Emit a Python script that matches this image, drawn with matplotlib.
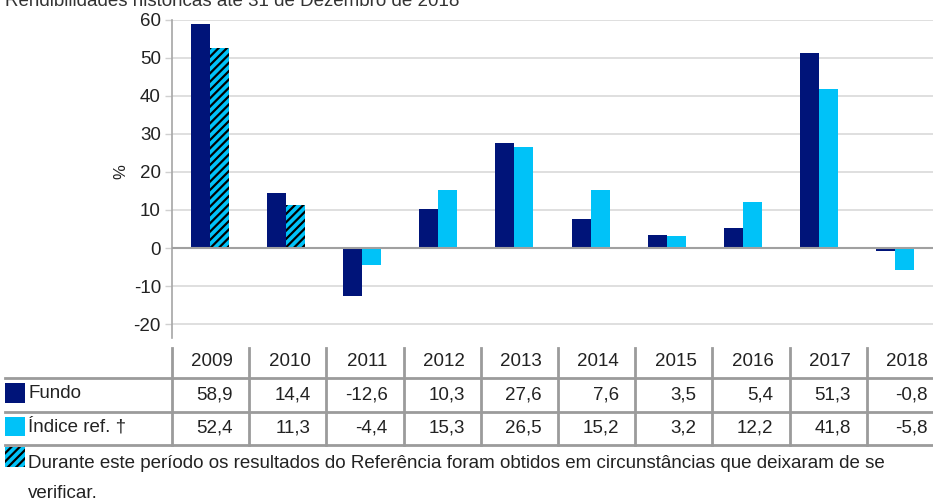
import numpy as np
import matplotlib
matplotlib.use("Agg")
import matplotlib.pyplot as plt
from matplotlib.patches import Rectangle

# Rendibilidades anuais (%)
anos = ["2009", "2010", "2011", "2012", "2013", "2014", "2015", "2016", "2017", "2018"]
fundo = [58.9, 14.4, -12.6, 10.3, 27.6, 7.6, 3.5, 5.4, 51.3, -0.8]
indice = [52.4, 11.3, -4.4, 15.3, 26.5, 15.2, 3.2, 12.2, 41.8, -5.8]
# anos em que o índice foi obtido noutras circunstâncias (barras tracejadas)
anos_tracejados = ["2009", "2010"]

titulo = "Rendibilidades históricas até 31 de Dezembro de 2018"
serie_nomes = ["Fundo", "Índice ref. †"]
nota = ["Durante este período os resultados do Referência foram obtidos em "
        "circunstâncias que deixaram de se", "verificar."]

AZUL = "#001479"
CIANO = "#00C2F8"
CINZA = "#9b9b9b"
TXT = "#222222"
FS = 13.5

plt.rcParams["font.family"] = ["Liberation Sans", "DejaVu Sans"]
plt.rcParams["hatch.linewidth"] = 1.6
plt.rcParams["axes.unicode_minus"] = False

W, H = 933, 503
fig = plt.figure(figsize=(W / 100, H / 100), dpi=100)


def fy(py):
    # pixel contado a partir do topo -> fração da figura
    return 1 - py / H


def fx(px):
    return px / W


ax = fig.add_axes([fx(172), fy(338), 1 - fx(172), fy(19.5) - fy(338)])
x = np.arange(len(anos))
larg = 0.25
ax.bar(x - larg / 2, fundo, larg, color=AZUL, zorder=3)
for i, a in enumerate(anos):
    tracejado = a in anos_tracejados
    ax.bar(x[i] + larg / 2, indice[i], larg, color=CIANO, zorder=3,
           hatch="////" if tracejado else None,
           edgecolor="black" if tracejado else CIANO, linewidth=0)

ax.set_xlim(-0.5, len(anos) - 0.5)
ax.set_ylim(-23.6, 60)
ax.set_yticks(range(-20, 61, 10))
ax.yaxis.grid(True, color="#d9d9d9", linewidth=1.2, zorder=0)
ax.axhline(0, color="#a0a0a0", linewidth=1.5, zorder=4)
ax.set_xticks([])
for s in ["top", "right", "bottom"]:
    ax.spines[s].set_visible(False)
ax.spines["left"].set_color("#a6a6a6")
ax.spines["left"].set_linewidth(1.2)
ax.tick_params(axis="y", length=5, width=1, color="#d0d0d0", pad=3,
               labelsize=FS, labelcolor=TXT)
ax.set_ylabel("%", fontsize=12, color=TXT)
ax.yaxis.set_label_coords(-(172 - 128) / (W - 172), (338 - 172) / (338 - 19.5))

fig.text(fx(5), fy(5.5), titulo, fontsize=FS, color="#333333", va="baseline")

# Tabela de valores
col0, colw = 172, 77.2
for py in [378, 411.5, 445]:
    fig.add_artist(plt.Line2D([fx(5), 1], [fy(py), fy(py)], color=CINZA, lw=2))
for j in range(len(anos)):
    px = col0 + j * colw
    fig.add_artist(plt.Line2D([fx(px), fx(px)], [fy(348), fy(445)], color=CINZA, lw=2))


def fmt(v):
    return f"{v:.1f}".replace(".", ",")


for j, a in enumerate(anos):
    xr = fx(col0 + (j + 1) * colw - 16)
    fig.text(xr, fy(362), a, ha="right", va="center", fontsize=FS, color=TXT)
    fig.text(xr, fy(395), fmt(fundo[j]), ha="right", va="center", fontsize=FS, color=TXT)
    fig.text(xr, fy(428), fmt(indice[j]), ha="right", va="center", fontsize=FS, color=TXT)

# Legenda das séries
for nome, cor, py in [(serie_nomes[0], AZUL, 383), (serie_nomes[1], CIANO, 416.5)]:
    fig.add_artist(Rectangle((fx(5), fy(py + 19.5)), fx(20), 19.5 / H,
                             transform=fig.transFigure, facecolor=cor, edgecolor="none"))
    fig.text(fx(28), fy(py + 10), nome, ha="left", va="center", fontsize=FS, color=TXT)

# Nota sobre o período tracejado
fig.add_artist(Rectangle((fx(5), fy(467)), fx(20), 20 / H, transform=fig.transFigure,
                         facecolor=CIANO, edgecolor="black", hatch="////", linewidth=0))
fig.text(fx(28), fy(464), nota[0], ha="left", va="center", fontsize=FS, color=TXT)
fig.text(fx(28), fy(493), nota[1], ha="left", va="center", fontsize=FS, color=TXT)

fig.savefig("out.png", dpi=100)
